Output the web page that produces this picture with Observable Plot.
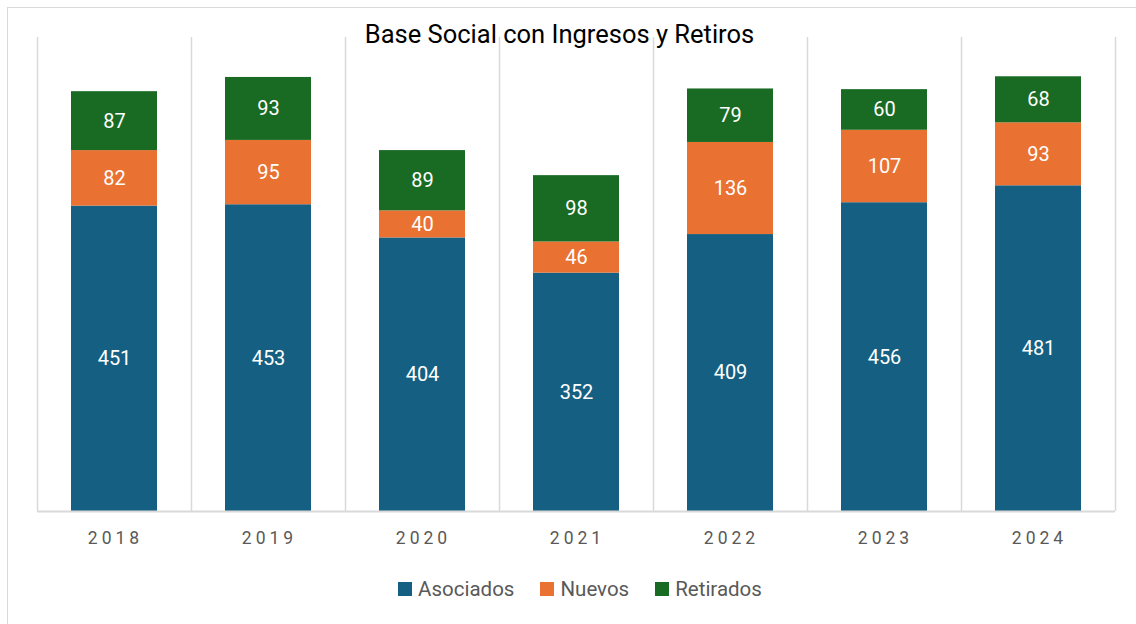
<!DOCTYPE html>
<html>
<head>
<meta charset="utf-8">
<script src="https://cdn.jsdelivr.net/npm/d3@7"></script>
<script src="https://cdn.jsdelivr.net/npm/@observablehq/plot@0.6"></script>
<style>
  html, body { margin: 0; padding: 0; background: #fff; }
  body { width: 1136px; height: 624px; overflow: hidden; position: relative; font-family: Roboto, "Noto Sans", sans-serif; }
  #frame { position: absolute; left: 7px; top: 7px; width: 1160px; height: 660px; border: 1px solid #d9d9d9; box-sizing: border-box; }
  #chart { position: absolute; left: 0; top: 0; }
  #title { position: absolute; left: 0; top: 18px; width: 1119px; text-align: center; font-size: 25.5px; line-height: 32px; color: #000; }
  #legend { position: absolute; left: 0; top: 575px; width: 1160px; display: flex; justify-content: center; gap: 26px; font-size: 20.5px; line-height: 28px; color: #595959; }
  #legend .item { display: flex; align-items: center; }
  #legend .sw { width: 14px; height: 14px; margin-right: 6px; }
  g[aria-label="x-axis tick label"] text { letter-spacing: 4px; }
</style>
</head>
<body>
<div id="frame"></div>
<div id="chart"></div>
<div id="title">Base Social con Ingresos y Retiros</div>
<div id="legend"></div>
<script>
const years = ["2018", "2019", "2020", "2021", "2022", "2023", "2024"];
const seriesNames = ["Asociados", "Nuevos", "Retirados"];
const seriesColors = ["#156082", "#E97132", "#196B24"];
const asociados = [451, 453, 404, 352, 409, 456, 481];
const nuevos = [82, 95, 40, 46, 136, 107, 93];
const retirados = [87, 93, 89, 98, 79, 60, 68];

const seriesValues = [asociados, nuevos, retirados];
const data = [];
years.forEach((y, i) => {
  seriesNames.forEach((s, j) => data.push({year: y, series: s, value: seriesValues[j][i]}));
});

const W = 1136, H = 560, ML = 37, MR = 21, MT = 37, MB = 49;
const step = (W - ML - MR) / years.length;

const plot = Plot.plot({
  width: W,
  height: H,
  marginLeft: ML,
  marginRight: MR,
  marginTop: MT,
  marginBottom: MB,
  style: {fontFamily: "Roboto, 'Noto Sans', sans-serif", background: "transparent"},
  x: {domain: years, paddingInner: 0.44, paddingOuter: 0.22, label: null},
  y: {domain: [0, 700], axis: null},
  color: {domain: seriesNames, range: seriesColors},
  marks: [
    Plot.ruleX(years, {x: d => d, dx: -step / 2, y1: 0, y2: 700, stroke: "#d9d9d9", strokeWidth: 1.5}),
    Plot.ruleX([years[years.length - 1]], {x: d => d, dx: step / 2, y1: 0, y2: 700, stroke: "#d9d9d9", strokeWidth: 1.5}),
    Plot.barY(data, {x: "year", y: "value", fill: "series"}),
    Plot.text(data, Plot.stackY({x: "year", y: "value", text: "value", fill: "white", fontSize: 20})),
    Plot.ruleY([0], {stroke: "#d9d9d9", strokeWidth: 2}),
    Plot.axisX({tickSize: 0, tickPadding: 20, fontSize: 17.5, fill: "#595959", dx: 1, label: null})
  ]
});
document.getElementById("chart").appendChild(plot);

const legend = document.getElementById("legend");
seriesNames.forEach((s, i) => {
  const item = document.createElement("div");
  item.className = "item";
  const sw = document.createElement("span");
  sw.className = "sw";
  sw.style.background = seriesColors[i];
  const t = document.createElement("span");
  t.textContent = s;
  item.appendChild(sw);
  item.appendChild(t);
  legend.appendChild(item);
});
</script>
</body>
</html>
